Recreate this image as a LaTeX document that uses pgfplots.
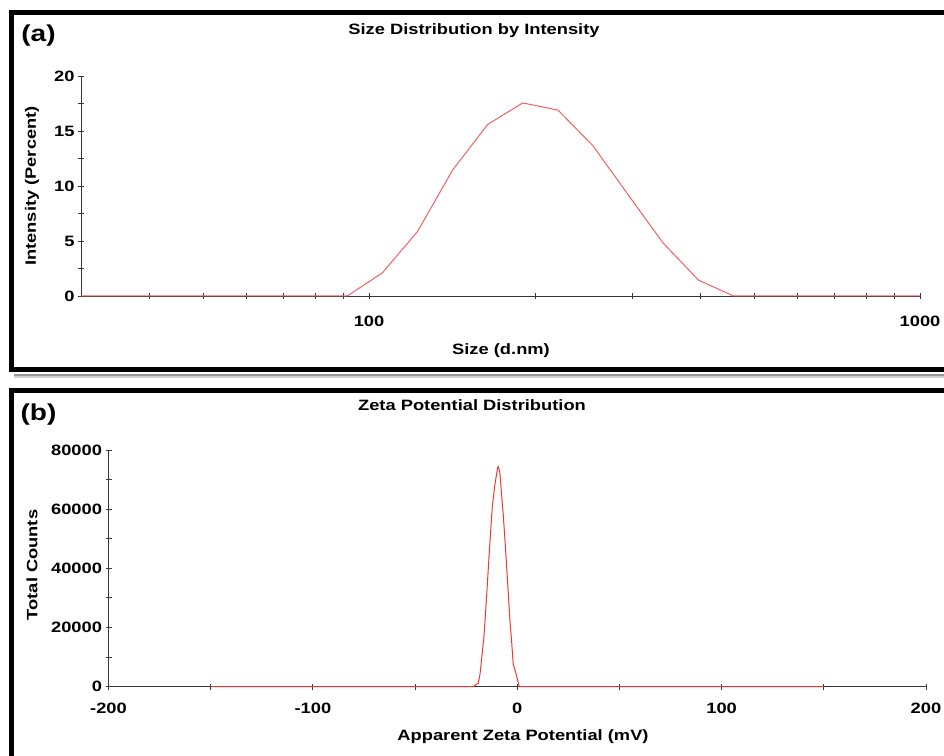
\documentclass[border=0pt]{standalone}
\usepackage{fontspec}
\setmainfont{Liberation Sans}[FakeStretch=1.22]
\usepackage{pgfplots}
\usepackage{pgfplotstable}
\pgfplotsset{compat=1.18}

\definecolor{curvea}{RGB}{245,95,95}
\definecolor{curveb}{RGB}{240,55,50}
\definecolor{axisgray}{RGB}{55,55,55}

\newcommand{\lbl}{\fontsize{15}{17}\selectfont\bfseries}

% Size distribution by intensity (DLS)
\pgfplotstableread{
size intensity
30 0
91.28 0
105.7 2.1
122.4 5.85
141.8 11.45
164.2 15.6
190.1 17.55
220.2 16.9
255.0 13.65
295.3 9.2
342.0 4.8
396.1 1.45
458.7 0
1000 0
}\sizedata

% Zeta potential distribution
\pgfplotstableread{
zeta counts
-150 0
-21.5 0
-19.1 1100
-18.2 4300
-17.5 8850
-16.3 16800
-15.0 30400
-13.7 45200
-12.2 61000
-10.9 68400
-9.6 74100
-9.3 74400
-8.5 72400
-8.0 67800
-6.8 57600
-5.7 46300
-4.7 35000
-3.6 22500
-2.8 15700
-2.0 7700
-0.6 4300
1.0 0
150 0
}\zetadata

\pgfplotsset{
  malvern/.style={
    set layers,
    scale only axis,
    axis lines*=left,
    axis line style={-, axisgray, line width=0.9pt},
    tick align=center,
    major tick length=6pt,
    minor tick length=6pt,
    tick style={axisgray, line width=0.8pt},
    tick label style={font=\lbl},
    /pgf/number format/assume math mode=true,
    every axis plot/.append style={on layer=axis foreground},
    clip=false,
  }
}

\begin{document}
\begin{tikzpicture}
\begin{scope}[x=1pt,y=1pt]
\clip (0,0) rectangle (944,755);

% panel frames
\draw[black!18, line width=2pt] (14,377.5) -- (960,377.5);
\draw[black!40, line width=2pt] (14,380) -- (960,380);
\draw[line width=5pt] (960,742.5) -- (11.5,742.5) -- (11.5,385) -- (960,385);
\draw[line width=5pt] (960,364) -- (11.5,364) -- (11.5,-10);
\end{scope}

% (a) size distribution
\begin{axis}[malvern,
  at={(81pt,459pt)}, anchor=south west,
  width=839pt, height=220pt,
  xmode=log,
  xmin=30, xmax=1000,
  ymin=0, ymax=20,
  xtick={40,50,60,70,80,90,100,200,300,400,500,600,700,800,900,1000},
  xticklabels={,,,,,,100,,,,,,,,,1000},
  xticklabel style={yshift=-13pt},
  ytick={0,5,10,15,20},
  minor ytick={2.5,7.5,12.5,17.5},
]
\addplot[curvea, line width=1pt] table[x=size, y=intensity] {\sizedata};
\end{axis}

% (b) zeta potential
\begin{axis}[malvern,
  at={(108.5pt,68.5pt)}, anchor=south west,
  width=817.5pt, height=236.5pt,
  xmin=-200, xmax=200,
  ymin=0, ymax=80000,
  xtick={-200,-100,0,100,200},
  minor xtick={-150,-50,50,150},
  xticklabel style={yshift=-10pt},
  ytick={0,20000,40000,60000,80000},
  minor ytick={10000,30000,50000,70000},
  scaled y ticks=false,
  yticklabel style={/pgf/number format/.cd, fixed, 1000 sep={}},
]
\addplot[curveb, line width=1pt] table[x=zeta, y=counts] {\zetadata};
\end{axis}

% titles and labels
\begin{scope}[x=1pt,y=1pt]
\node[font=\fontsize{23}{25}\selectfont\bfseries] at (38.5,719) {(a)};
\node[font=\lbl] at (474,724) {Size Distribution by Intensity};
\node[font=\lbl, rotate=90] at (32,569) {Intensity (Percent)};
\node[font=\lbl] at (501,404) {Size (d.nm)};

\node[font=\fontsize{23}{25}\selectfont\bfseries] at (38.5,340) {(b)};
\node[font=\lbl] at (472,350) {Zeta Potential Distribution};
\node[font=\lbl, rotate=90] at (32,190) {Total Counts};
\node[font=\lbl] at (523,18) {Apparent Zeta Potential (mV)};
\end{scope}

\pgfresetboundingbox
\useasboundingbox (0,0) rectangle (944pt,755pt);
\end{tikzpicture}
\end{document}
